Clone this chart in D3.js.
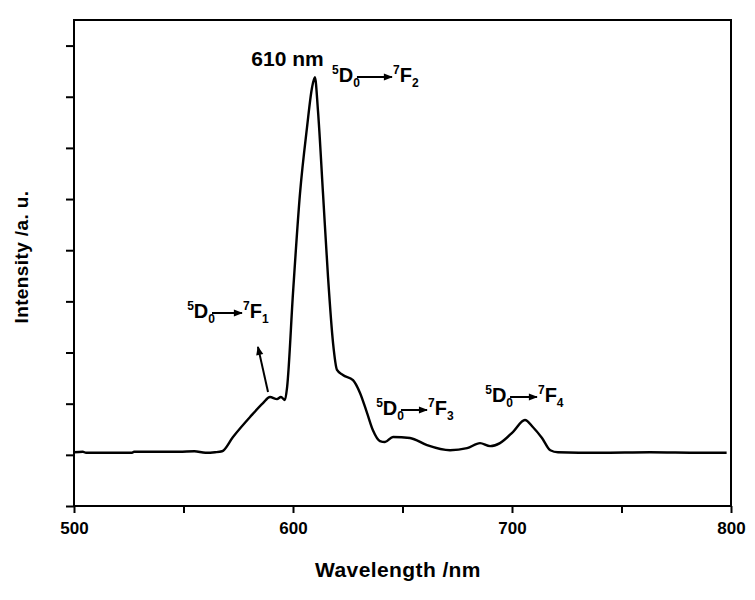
<!DOCTYPE html>
<html>
<head>
<meta charset="utf-8">
<script src="https://cdn.jsdelivr.net/npm/d3@7"></script>
<style>
    body { margin: 0; background: #fff; }
    text { font-family: "Liberation Sans", Arial, sans-serif; font-weight: bold; fill: #000; }
</style>
</head>
<body>
<svg id="chart" width="755" height="600"></svg>
<script>
// 光谱数据 (波长 nm / 强度 a.u.)
var wavelength = [500, 504, 505.5, 526.5, 527.4, 548, 555, 560, 564.4, 567.6, 572.6, 580.4, 586.3, 589.5,
    592.7, 594.5, 596.3, 597.3, 600, 603.2, 606.4, 608.7, 610, 611.4, 613.7, 616, 618.3, 620.1, 622.8,
    627.4, 630.6, 633.8, 636.5, 639.7, 642, 645.7, 653.4, 661.2, 671.7, 679.5, 685.4, 690, 694.5, 700.5,
    705.9, 709.6, 713.7, 717.5, 721, 740, 763, 786, 798];
var intensity = [1.05, 1.06, 1.04, 1.04, 1.06, 1.06, 1.07, 1.04, 1.05, 1.07, 1.35, 1.74, 2.01, 2.13,
    2.09, 2.13, 2.07, 2.32, 4.16, 6.11, 7.40, 8.18, 8.38, 7.73, 6.11, 4.47, 3.18, 2.66, 2.56,
    2.46, 2.21, 1.82, 1.48, 1.27, 1.25, 1.35, 1.33, 1.19, 1.09, 1.13, 1.23, 1.17, 1.23, 1.45,
    1.68, 1.54, 1.33, 1.09, 1.05, 1.04, 1.05, 1.04, 1.04];

var xTicks = [500, 550, 600, 650, 700, 750, 800];
var xLabels = ["500", "", "600", "", "700", "", "800"];
var yTicks = [0, 1, 2, 3, 4, 5, 6, 7, 8, 9];

// 跃迁标注: 终态 J, 箭头起止波长, 基线强度
var transJ = ["1", "2", "3", "4"];
var transFrom = [563, 629.2, 649.3, 699.1];
var transTo = [576.7, 645.2, 661.2, 711.4];
var transLevel = [3.675, 8.288, 1.779, 2.033];

var peakLabel = "610 nm";

var margin = { top: 20, right: 24, bottom: 94, left: 74 };
var width = 755 - margin.left - margin.right;
var height = 600 - margin.top - margin.bottom;

var svg = d3.select("#chart");

var defs = svg.append("defs");
defs.append("marker")
    .attr("id", "head")
    .attr("markerUnits", "userSpaceOnUse")
    .attr("viewBox", "0 -5 10 10")
    .attr("refX", 9)
    .attr("refY", 0)
    .attr("markerWidth", 11)
    .attr("markerHeight", 9)
    .attr("orient", "auto")
    .append("path")
    .attr("d", "M0,-4 L10,0 L0,4 Z")
    .style("fill", "#000");

var g = svg.append("g")
    .attr("transform", "translate(" + margin.left + "," + margin.top + ")");

var x = d3.scaleLinear().domain([500, 800]).range([0, width]);
var y = d3.scaleLinear().domain([0, 9.5]).range([height, 0]);

// 坐标轴
var xAxis = g.append("g")
    .attr("transform", "translate(0," + height + ")")
    .call(d3.axisBottom(x)
        .tickValues(xTicks)
        .tickSize(7)
        .tickSizeOuter(0)
        .tickPadding(9)
        .tickFormat(function (d, i) { return xLabels[i]; }));
xAxis.selectAll("text").style("font-size", "17px");

var yAxis = g.append("g")
    .call(d3.axisLeft(y)
        .tickValues(yTicks)
        .tickSize(8)
        .tickSizeOuter(0)
        .tickFormat(""));

g.selectAll(".tick line").attr("stroke-width", 2);
g.selectAll(".domain").remove();

// 边框
g.append("rect")
    .attr("width", width)
    .attr("height", height)
    .attr("fill", "none")
    .attr("stroke", "#000")
    .attr("stroke-width", 2);

// 光谱曲线
var points = wavelength.map(function (w, i) { return [w, intensity[i]]; });
var line = d3.line()
    .x(function (d) { return x(d[0]); })
    .y(function (d) { return y(d[1]); })
    .curve(d3.curveMonotoneX);

g.append("path")
    .datum(points)
    .attr("d", line)
    .attr("fill", "none")
    .attr("stroke", "#000")
    .attr("stroke-width", 2.4)
    .attr("stroke-linejoin", "round");

// 峰值标签
g.append("text")
    .attr("x", x(597.5))
    .attr("y", y(8.6))
    .attr("text-anchor", "middle")
    .style("font-size", "21px")
    .text(peakLabel);

// 跃迁标签 5D0 -> 7FJ
function level(sel, sup, main, sub) {
    sel.append("tspan").attr("dy", -8).style("font-size", "12px").text(sup);
    sel.append("tspan").attr("dy", 8).style("font-size", "20px").text(main);
    sel.append("tspan").attr("dy", 5).style("font-size", "12px").text(sub);
}

transJ.forEach(function (j, i) {
    var x0 = x(transFrom[i]), x1 = x(transTo[i]), yb = y(transLevel[i]);
    var left = g.append("text")
        .attr("x", x0 + 3)
        .attr("y", yb)
        .attr("text-anchor", "end");
    level(left, "5", "D", "0");
    g.append("line")
        .attr("x1", x0)
        .attr("x2", x1)
        .attr("y1", yb - 5)
        .attr("y2", yb - 5)
        .attr("stroke", "#000")
        .attr("stroke-width", 2)
        .attr("marker-end", "url(#head)");
    var right = g.append("text")
        .attr("x", x1 + 1)
        .attr("y", yb);
    level(right, "7", "F", j);
});

// 5D0->7F1 指示箭头
g.append("line")
    .attr("x1", x(588.6))
    .attr("y1", y(2.23))
    .attr("x2", x(584))
    .attr("y2", y(3.11))
    .attr("stroke", "#000")
    .attr("stroke-width", 2)
    .attr("marker-end", "url(#head)");

// 轴标题
svg.append("text")
    .attr("x", 398)
    .attr("y", 577)
    .attr("text-anchor", "middle")
    .style("font-size", "21px")
    .style("letter-spacing", "0.4px")
    .text("Wavelength /nm");

svg.append("text")
    .attr("transform", "translate(28,257) rotate(-90)")
    .attr("text-anchor", "middle")
    .style("font-size", "19px")
    .style("letter-spacing", "0.4px")
    .text("Intensity /a. u.");
</script>
</body>
</html>
